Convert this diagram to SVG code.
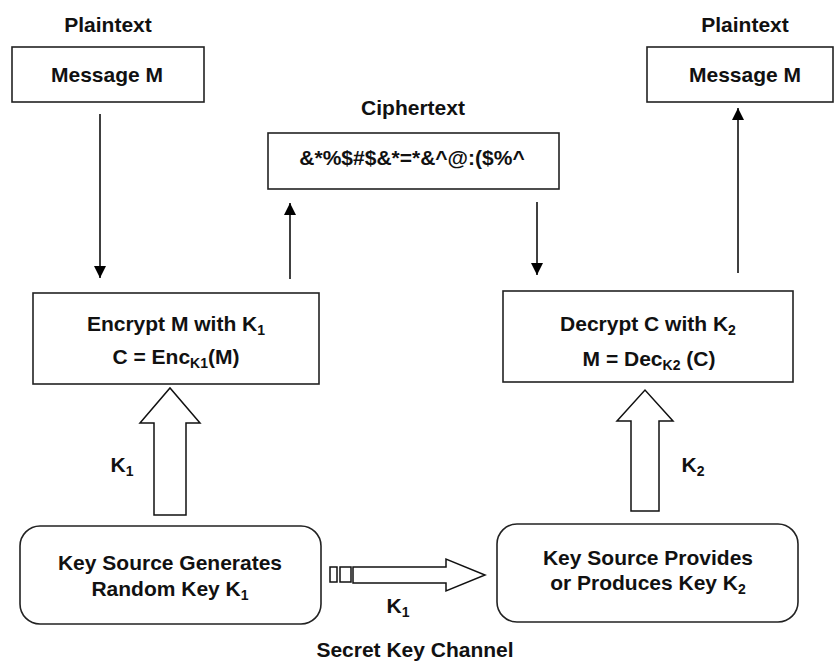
<svg xmlns="http://www.w3.org/2000/svg" width="834" height="661" viewBox="0 0 834 661">
<defs>
<marker id="ah" markerWidth="12" markerHeight="12" viewBox="0 0 12 12" refX="12" refY="6" orient="auto" markerUnits="userSpaceOnUse">
<path d="M0,0 L12,6 L0,12 Z" fill="#000"/>
</marker>
<style>
text{font-family:"Liberation Sans",Arial,sans-serif;font-weight:bold;font-size:21px;fill:#111;text-anchor:middle}
.sub{font-size:14px}
.box{fill:#fff;stroke:#222;stroke-width:1.6}
.line{stroke:#000;stroke-width:1.5;fill:none}
.block{fill:#fff;stroke:#111;stroke-width:1.5;stroke-linejoin:miter}
</style>
</defs>
<rect width="834" height="661" fill="#fff"/>

<g id="plain-left">
<text x="108" y="32">Plaintext</text>
<rect class="box" x="12" y="47" width="192" height="55"/>
<text x="107" y="82">Message  M</text>
</g>

<g id="plain-right">
<text x="745" y="32">Plaintext</text>
<rect class="box" x="647" y="47" width="186" height="55"/>
<text x="745" y="82">Message  M</text>
</g>

<g id="cipher">
<text x="413" y="115">Ciphertext</text>
<rect class="box" x="268" y="133" width="291" height="56"/>
<text x="412" y="165">&amp;*%$#$&amp;*=*&amp;^@:($%^</text>
</g>

<g id="encrypt">
<rect class="box" x="33" y="293" width="286" height="91"/>
<text x="176" y="331">Encrypt M with K<tspan class="sub" dy="4">1</tspan></text>
<text x="176" y="364">C = Enc<tspan class="sub" dy="4">K1</tspan><tspan dy="-4">(M)</tspan></text>
</g>

<g id="decrypt">
<rect class="box" x="503" y="291" width="290" height="91"/>
<text x="648" y="331">Decrypt  C with  K<tspan class="sub" dy="4">2</tspan></text>
<text x="649" y="366">M = Dec<tspan class="sub" dy="4">K2</tspan><tspan dy="-4"> (C)</tspan></text>
</g>

<g id="keysrc-left">
<rect class="box" x="20" y="526" width="301" height="98" rx="20" ry="20"/>
<text x="170" y="570">Key Source Generates</text>
<text x="170" y="596">Random Key K<tspan class="sub" dy="4">1</tspan></text>
</g>

<g id="keysrc-right">
<rect class="box" x="497" y="524" width="301" height="98" rx="20" ry="20"/>
<text x="648" y="565">Key Source Provides</text>
<text x="648" y="590">or Produces Key K<tspan class="sub" dy="4">2</tspan></text>
</g>

<g id="channel-label">
<text x="415" y="657">Secret Key Channel</text>
</g>

<g id="connectors">
<line class="line" x1="100" y1="114" x2="100" y2="278" marker-end="url(#ah)"/>
<line class="line" x1="290" y1="279" x2="290" y2="203" marker-end="url(#ah)"/>
<line class="line" x1="537" y1="202" x2="537" y2="275" marker-end="url(#ah)"/>
<line class="line" x1="738" y1="273" x2="738" y2="108" marker-end="url(#ah)"/>
<path class="block" d="M154,515 L154,423 L140,423 L170,388 L200,423 L186,423 L186,515 Z"/>
<text x="122" y="472">K<tspan class="sub" dy="4">1</tspan></text>
<path class="block" d="M631,511 L631,421 L617,421 L645,390 L673,421 L659,421 L659,511 Z"/>
<text x="693" y="472">K<tspan class="sub" dy="4">2</tspan></text>
<rect class="block" x="330" y="567" width="7" height="15"/>
<rect class="block" x="340" y="567" width="11" height="15"/>
<path class="block" d="M353,567 L446,567 L446,559 L485,575 L446,591 L446,583 L353,583 Z"/>
<text x="398" y="613">K<tspan class="sub" dy="4">1</tspan></text>
</g>
</svg>
